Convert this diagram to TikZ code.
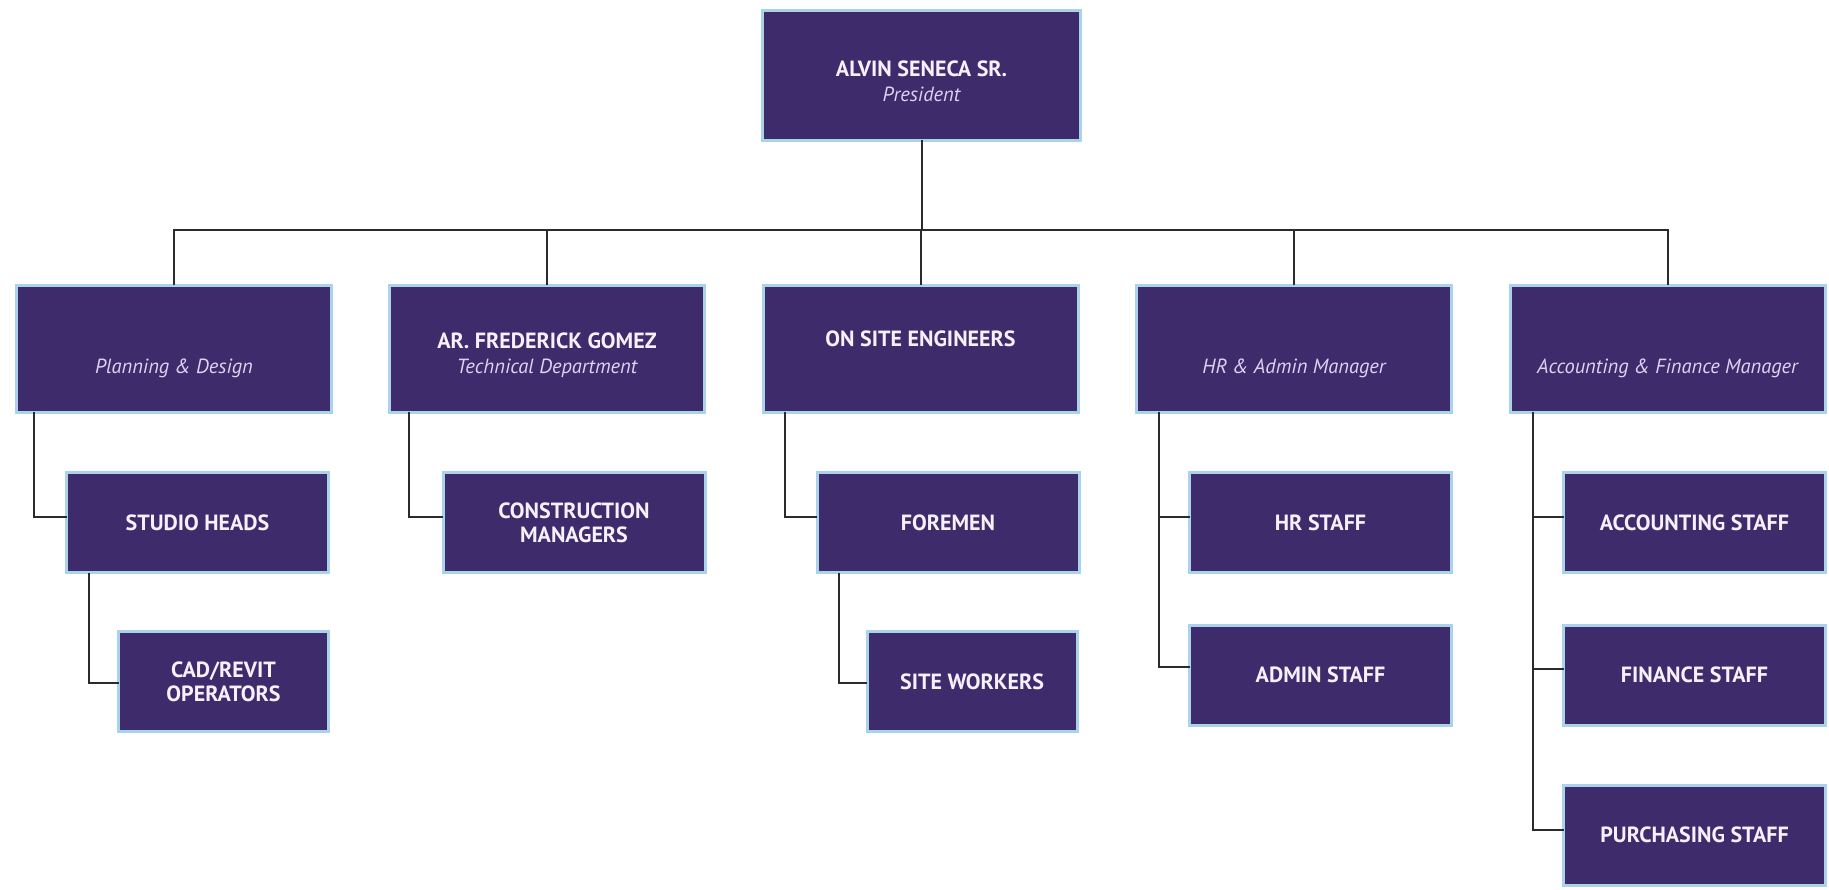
\documentclass[tikz,border=0pt]{standalone}
\usepackage{fontspec}
\setmainfont{PT Sans}
\definecolor{boxfill}{HTML}{3E2B6C}
\definecolor{boxedge}{HTML}{AAD2EA}
\definecolor{nametext}{HTML}{F5F0FA}
\definecolor{roletext}{HTML}{DDD2F2}
\definecolor{linkcol}{HTML}{2B2B2B}
\tikzset{
  orgbox/.style={rectangle, fill=boxfill, draw=boxedge, line width=3pt, outer sep=0pt,
    inner sep=0pt, align=center, text=nametext, font=\fontsize{22}{26}\selectfont\bfseries},
  lvlone/.style={orgbox, minimum width=315pt, minimum height=127pt},
  kidbox/.style={orgbox, minimum width=262pt, minimum height=100pt},
  gkidbox/.style={orgbox, minimum width=210pt, minimum height=100pt},
  link/.style={draw=linkcol, line width=2pt}
}
\newcommand{\rolet}[1]{{\color{roletext}\fontsize{20.5}{26}\selectfont\mdseries\itshape #1}}
\newcommand{\topup}{\rule{0pt}{28pt}}
\begin{document}
\begin{tikzpicture}[x=1pt,y=-1pt]
\useasboundingbox (0,0) rectangle (1829,890);
\fill[white] (0,0) rectangle (1829,890);
\clip (0,0) rectangle (1829,890);

% president
\node[orgbox, minimum width=318pt, minimum height=130pt] (pres) at (921.5,75.5)
  {\topup ALVIN SENECA SR.\\[-1pt]\rolet{President}};

% level one
\node[lvlone] (plan) at (174,349) {\topup\\[-1pt]\rolet{Planning \& Design}};
\node[lvlone] (tech) at (547,349) {\topup AR. FREDERICK GOMEZ\\[-1pt]\rolet{Technical Department}};
\node[lvlone] (site) at (920.5,349) {\topup ON SITE ENGINEERS\\[-1pt]\strut};
\node[lvlone] (hr) at (1294,349) {\topup\\[-1pt]\rolet{HR \& Admin Manager}};
\node[lvlone] (acct) at (1667.5,349) {\topup\\[-1pt]\rolet{Accounting \& Finance Manager}};

% level two
\node[kidbox] (studio) at (197.5,522.5) {STUDIO HEADS};
\node[kidbox] (constr) at (574,522.5) {CONSTRUCTION\\[-2pt]MANAGERS};
\node[kidbox] (foremen) at (948,522.5) {FOREMEN};
\node[kidbox] (hrstaff) at (1320.5,522.5) {HR STAFF};
\node[kidbox] (acstaff) at (1694.5,522.5) {ACCOUNTING STAFF};
\node[kidbox] (adstaff) at (1320.5,675) {ADMIN STAFF};
\node[kidbox] (fnstaff) at (1694.5,675) {FINANCE STAFF};
\node[kidbox] (pustaff) at (1694.5,835) {PURCHASING STAFF};

% level three
\node[gkidbox] (cad) at (223.5,681.5) {CAD/REVIT\\[-2pt]OPERATORS};
\node[gkidbox] (workers) at (972,681.5) {SITE WORKERS};

% bus
\coordinate (bus) at (921.5,230);
\draw[link] (pres.south) -- (bus);
\draw[link] (plan.north) |- (bus) -| (acct.north);
\draw[link] (tech.north) -- (tech.north |- bus);
\draw[link] (site.north) -- (site.north |- bus);
\draw[link] (hr.north) -- (hr.north |- bus);

% tees
\draw[link] ([xshift=17pt]plan.south west) |- ([yshift=6pt]studio.west);
\draw[link] ([xshift=22pt]studio.south west) |- ([yshift=-1.5pt]cad.west);
\draw[link] ([xshift=19pt]tech.south west) |- ([yshift=6pt]constr.west);
\draw[link] ([xshift=22pt]site.south west) |- ([yshift=6pt]foremen.west);
\draw[link] ([xshift=22pt]foremen.south west) |- ([yshift=-1.5pt]workers.west);
\draw[link] ([xshift=22pt]hr.south west) |- ([yshift=8pt]adstaff.west);
\draw[link] ([xshift=22pt]hr.south west) |- ([yshift=6pt]hrstaff.west);
\draw[link] ([xshift=23pt]acct.south west) |- ([yshift=5pt]pustaff.west);
\draw[link] ([xshift=23pt]acct.south west) |- ([yshift=6pt]acstaff.west);
\draw[link] ([xshift=23pt]acct.south west) |- ([yshift=6pt]fnstaff.west);
\end{tikzpicture}
\end{document}
